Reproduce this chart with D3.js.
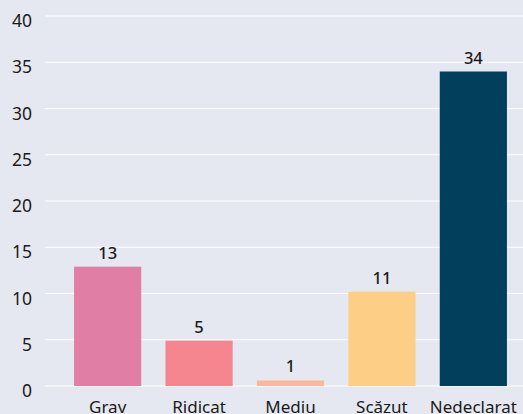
<!DOCTYPE html>
<html lang="ro">
<head>
<meta charset="utf-8">
<script src="https://d3js.org/d3.v7.min.js"></script>
<style>
  body { margin: 0; background: #e5e8f0; }
  svg { display: block; font-family: "Noto Sans", "Open Sans", sans-serif; }
</style>
</head>
<body>
<script>
  // data
  var categories = ["Grav", "Ridicat", "Mediu", "Scăzut", "Nedeclarat"];
  var values = [12.9, 4.9, 0.6, 10.2, 34];
  var valueLabels = ["13", "5", "1", "11", "34"];
  var colors = ["#e07ea6", "#f5858f", "#f9b89c", "#fdcf86", "#023f5c"];
  var yTicks = [0, 5, 10, 15, 20, 25, 30, 35, 40];

  var w = 523, h = 414;
  var plotLeft = 45, plotTop = 16, plotBottom = 386;

  var svg = d3.select("body").append("svg")
      .attr("width", w).attr("height", h);

  svg.append("rect").attr("width", w).attr("height", h).attr("fill", "#e5e8f0");

  var y = d3.scaleLinear().domain([0, 40]).range([plotBottom, plotTop]);

  var x = d3.scaleBand()
      .domain(categories)
      .range([plotLeft, 536])
      .paddingInner(0.265)
      .paddingOuter(0.318);

  // grid lines
  svg.append("g")
    .selectAll("line")
    .data(yTicks)
    .join("line")
      .attr("x1", plotLeft).attr("x2", w)
      .attr("y1", d => y(d)).attr("y2", d => y(d))
      .attr("stroke", "#ffffff")
      .attr("stroke-width", 1.2);

  // y tick labels
  svg.append("g")
    .selectAll("text")
    .data(yTicks)
    .join("text")
      .attr("x", 32)
      .attr("y", d => y(d) + 11)
      .attr("text-anchor", "end")
      .attr("font-size", 17.5)
      .attr("fill", "#1a1a1a")
      .text(d => d);

  // bars
  svg.append("g")
    .selectAll("rect")
    .data(values)
    .join("rect")
      .attr("x", (d, i) => x(categories[i]))
      .attr("width", x.bandwidth())
      .attr("y", d => y(d))
      .attr("height", d => y(0) - y(d))
      .attr("fill", (d, i) => colors[i]);

  // value labels
  svg.append("g")
    .selectAll("text")
    .data(values)
    .join("text")
      .attr("x", (d, i) => x(categories[i]) + x.bandwidth() / 2)
      .attr("y", d => y(d) - 8)
      .attr("text-anchor", "middle")
      .attr("font-size", 16.5)
      .attr("font-weight", 500)
      .attr("fill", "#1a1a1a")
      .text((d, i) => valueLabels[i]);

  // category labels
  svg.append("g")
    .selectAll("text")
    .data(categories)
    .join("text")
      .attr("x", d => x(d) + x.bandwidth() / 2)
      .attr("y", 413)
      .attr("text-anchor", "middle")
      .attr("font-size", 17)
      .attr("fill", "#1a1a1a")
      .text(d => d);
</script>
</body>
</html>
